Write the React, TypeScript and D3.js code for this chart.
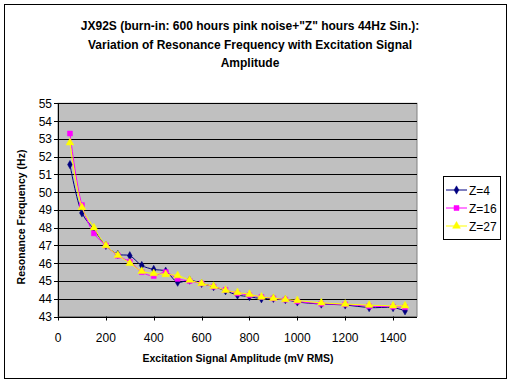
import React from "react";
import * as d3 from "d3";

const amplitudes = [50, 100, 150, 200, 250, 300, 350, 400, 450, 500, 550, 600, 650, 700, 750, 800, 850, 900, 950, 1000, 1100, 1200, 1300, 1400, 1450];
const z4 = [51.55, 48.83, 47.9, 47.0, 46.5, 46.42, 45.87, 45.65, 45.55, 44.93, 45.05, 44.86, 44.68, 44.45, 44.2, 44.12, 44.0, 44.02, 43.95, 43.82, 43.7, 43.65, 43.5, 43.5, 43.32];
const z16 = [53.3, 49.27, 47.68, 47.0, 46.42, 46.08, 45.5, 45.28, 45.5, 45.12, 45.0, 44.86, 44.68, 44.5, 44.3, 44.2, 44.1, 44.02, 43.95, 43.85, 43.72, 43.68, 43.58, 43.55, 43.52];
const z27 = [52.78, 49.14, 48.0, 47.0, 46.45, 46.0, 45.55, 45.42, 45.37, 45.3, 45.05, 44.86, 44.7, 44.48, 44.35, 44.25, 44.1, 44.03, 43.96, 43.9, 43.77, 43.7, 43.64, 43.6, 43.6];
const seriesNames = ["Z=4", "Z=16", "Z=27"];
const xTicks = [0, 200, 400, 600, 800, 1000, 1200, 1400];
const yTicks = [43, 44, 45, 46, 47, 48, 49, 50, 51, 52, 53, 54, 55];
const titleLines = [
  'JX92S (burn-in: 600 hours pink noise+"Z" hours 44Hz Sin.):',
  "Variation of Resonance Frequency with Excitation Signal",
  "Amplitude",
];

const FONT = "'Liberation Sans', Arial, sans-serif";

export default function App() {
  const x = d3.scaleLinear().domain([0, 1500]).range([58, 417]);
  const y = d3.scaleLinear().domain([43, 55]).range([316.5, 103.3]);

  const series = [
    { name: seriesNames[0], values: z4, color: "#000080", symbol: d3.symbolDiamond, size: 20 },
    { name: seriesNames[1], values: z16, color: "#FF00FF", symbol: d3.symbolSquare, size: 25 },
    { name: seriesNames[2], values: z27, color: "#FFFF00", symbol: d3.symbolTriangle, size: 26 },
  ];

  const line = d3
    .line<number>()
    .x((_, i) => x(amplitudes[i]))
    .y((d) => y(d))
    .curve(d3.curveCatmullRom.alpha(0.5));

  const [x0, x1] = x.range();
  const [yb, yt] = y.range();

  return (
    <svg
      width={512}
      height={384}
      style={{ position: "fixed", left: 0, top: 0, background: "#fff" }}
      fontFamily={FONT}
    >
      <rect x={0} y={0} width={512} height={384} fill="#fff" />
      <rect x={4.5} y={4.5} width={502} height={374} fill="none" stroke="#000" strokeWidth={1} />

      {titleLines.map((t, i) => (
        <text key={i} x={250} y={30 + i * 18.5} textAnchor="middle" fontSize={12} fontWeight="bold">
          {t}
        </text>
      ))}

      <rect x={x0} y={yt} width={x1 - x0} height={yb - yt} fill="#C0C0C0" stroke="#808080" strokeWidth={1} />

      {yTicks.map((t) => (
        <g key={t}>
          {t > 43 && (
            <line x1={x0} x2={x1} y1={Math.round(y(t)) + 0.5} y2={Math.round(y(t)) + 0.5} stroke="#000" strokeWidth={1} />
          )}
          <line x1={x0 - 4} x2={x0} y1={Math.round(y(t)) + 0.5} y2={Math.round(y(t)) + 0.5} stroke="#000" />
          <text x={x0 - 6} y={y(t) + 4.5} textAnchor="end" fontSize={12}>
            {t}
          </text>
        </g>
      ))}

      {xTicks.map((t) => (
        <g key={t}>
          <line x1={Math.round(x(t)) + 0.5} x2={Math.round(x(t)) + 0.5} y1={yb} y2={yb + 4} stroke="#000" />
          <text x={x(t)} y={yb + 25} textAnchor="middle" fontSize={12}>
            {t}
          </text>
        </g>
      ))}

      <line x1={x0 + 0.5} x2={x0 + 0.5} y1={yt} y2={yb} stroke="#000" />
      <line x1={x0} x2={x1} y1={Math.round(yb) + 0.5} y2={Math.round(yb) + 0.5} stroke="#000" />

      {series.map((s) => (
        <g key={s.name}>
          <path d={line(s.values) || ""} fill="none" stroke={s.color} strokeWidth={1} />
          {s.values.map((v, i) => (
            <path
              key={i}
              d={d3.symbol().type(s.symbol).size(s.size)() || ""}
              transform={`translate(${x(amplitudes[i])},${y(v)})`}
              fill={s.color}
              stroke={s.color}
              strokeWidth={0.5}
            />
          ))}
        </g>
      ))}

      <text
        transform={`translate(25,${217}) rotate(-90)`}
        textAnchor="middle"
        fontSize={10.5}
        fontWeight="bold"
      >
        Resonance Frequency (Hz)
      </text>
      <text x={238} y={362} textAnchor="middle" fontSize={10.5} fontWeight="bold">
        Excitation Signal Amplitude (mV RMS)
      </text>

      <rect x={443.5} y={176.5} width={57} height={63} fill="#fff" stroke="#000" strokeWidth={1} />
      {series.map((s, i) => {
        const ly = 190 + i * 18;
        return (
          <g key={s.name}>
            <line x1={446} x2={467} y1={ly} y2={ly} stroke={s.color} strokeWidth={1} />
            <path
              d={d3.symbol().type(s.symbol).size(s.size)() || ""}
              transform={`translate(456.5,${ly})`}
              fill={s.color}
              stroke={s.color}
              strokeWidth={0.5}
            />
            <text x={469} y={ly + 4.5} fontSize={12}>
              {s.name}
            </text>
          </g>
        );
      })}
    </svg>
  );
}
